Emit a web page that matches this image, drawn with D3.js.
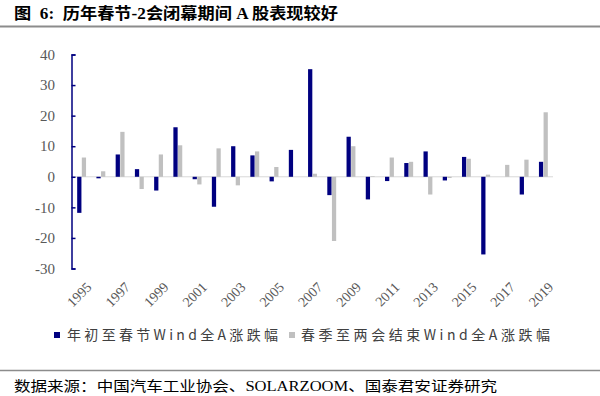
<!DOCTYPE html>
<html>
<head>
<meta charset="utf-8">
<script src="https://cdn.jsdelivr.net/npm/d3@7"></script>
<style>
  body { margin: 0; background: #fff; }
  svg { display: block; }
</style>
</head>
<body>
<div id="chart"></div>
<script>
// Data
const years = d3.range(1995, 2020).map(String);
const springFestival = [-11.8, -0.5, 7.3, 2.5, -4.5, 16.2, -0.8, -9.8, 10.0, 7.0, -1.5, 8.8, 35.2, -6.0, 13.1, -7.4, -1.4, 4.5, 8.3, -1.2, 6.5, -25.4, 0, -5.8, 4.9];
const twoSessions = [6.3, 1.8, 14.7, -4.0, 7.3, 10.3, -2.5, 9.3, -2.8, 8.3, 3.2, 0, 1.0, -21.0, 10.0, 0.2, 6.3, 4.9, -5.8, -0.4, 5.9, 0.7, 3.9, 5.6, 21.1];
const yTicks = [40, 30, 20, 10, 0, -10, -20, -30];
const seriesNames = ["年初至春节Wind全A涨跌幅", "春季至两会结束Wind全A涨跌幅"];
const seriesColors = ["#000080", "#c0c0c0"];

const width = 600, height = 396;
const serif = "'Liberation Serif', 'Noto Sans CJK SC', serif";

const svg = d3.select("#chart").append("svg")
    .attr("width", width)
    .attr("height", height);

// Title and rules
svg.append("text")
    .attr("x", 14).attr("y", 19)
    .attr("font-family", serif)
    .attr("font-size", 16)
    .attr("font-weight", "bold")
    .attr("textLength", 324)
    .attr("lengthAdjust", "spacingAndGlyphs")
    .attr("fill", "#000")
    .style("white-space", "pre")
    .text("图  6:  历年春节-2会闭幕期间 A 股表现较好");

svg.append("line")
    .attr("x1", 0).attr("x2", width)
    .attr("y1", 26.5).attr("y2", 26.5)
    .attr("stroke", "#8c8c8c").attr("stroke-width", 2);

svg.append("line")
    .attr("x1", 0).attr("x2", width)
    .attr("y1", 370.5).attr("y2", 370.5)
    .attr("stroke", "#8c8c8c").attr("stroke-width", 1.5);

svg.append("text")
    .attr("x", 14).attr("y", 391)
    .attr("font-family", serif)
    .attr("font-size", 14)
    .attr("textLength", 483)
    .attr("lengthAdjust", "spacingAndGlyphs")
    .attr("fill", "#000")
    .text("数据来源：中国汽车工业协会、SOLARZOOM、国泰君安证券研究");

// Scales
const left = 72, right = 553;
const y = d3.scaleLinear().domain([-30, 40]).range([268.5, 54.5]);
const x0 = d3.scaleBand().domain(years).range([left, right]).paddingInner(0.5).paddingOuter(0.25);
const x1 = d3.scaleBand().domain([0, 1]).range([0, x0.bandwidth()]).padding(0.08);

// Zero line
svg.append("line")
    .attr("x1", left).attr("x2", right)
    .attr("y1", y(0)).attr("y2", y(0))
    .attr("stroke", "#d9d9d9").attr("stroke-width", 1);

// Bars
const rows = years.map((yr, i) => ({ year: yr, values: [springFestival[i], twoSessions[i]] }));
const groups = svg.append("g").selectAll("g")
    .data(rows)
    .join("g")
    .attr("transform", d => `translate(${x0(d.year)},0)`);

groups.selectAll("rect")
    .data(d => d.values.map((v, k) => ({ k, v })))
    .join("rect")
    .attr("x", d => x1(d.k))
    .attr("width", x1.bandwidth())
    .attr("y", d => y(Math.max(0, d.v)))
    .attr("height", d => Math.abs(y(d.v) - y(0)))
    .attr("fill", d => seriesColors[d.k]);

// Y axis
const yAxis = d3.axisRight(y).tickValues(yTicks).tickSize(4).tickFormat("");
const yg = svg.append("g")
    .attr("transform", `translate(${left - 0.5},0)`)
    .call(yAxis);
yg.select(".domain").attr("stroke", "#000080").attr("stroke-width", 1.5);
yg.selectAll(".tick line").attr("stroke", "#000080").attr("stroke-width", 1.5);

svg.append("g").selectAll("text")
    .data(yTicks)
    .join("text")
    .attr("x", 55)
    .attr("y", d => y(d))
    .attr("dy", "0.35em")
    .attr("text-anchor", "end")
    .attr("font-family", serif)
    .attr("font-size", 15)
    .attr("fill", "#595959")
    .text(d => d);

// X labels every other year
const xLabels = years.filter((d, i) => i % 2 === 0);
svg.append("g").selectAll("text")
    .data(xLabels)
    .join("text")
    .attr("transform", d => `translate(${x0(d) + x0.bandwidth() / 2 + 4},${281}) rotate(-45)`)
    .attr("text-anchor", "end")
    .attr("dy", "0.7em")
    .attr("font-family", serif)
    .attr("font-size", 14)
    .attr("fill", "#595959")
    .text(d => d);

// Legend
const legendItems = [
    { name: seriesNames[0], color: seriesColors[0], sx: 54, tx: 67, len: 211 },
    { name: seriesNames[1], color: seriesColors[1], sx: 289, tx: 301, len: 249 }
];
const lg = svg.append("g");
lg.selectAll("rect")
    .data(legendItems)
    .join("rect")
    .attr("x", d => d.sx).attr("y", 332)
    .attr("width", 6).attr("height", 6)
    .attr("fill", d => d.color);
lg.selectAll("text")
    .data(legendItems)
    .join("text")
    .attr("x", d => d.tx).attr("y", 340)
    .attr("font-family", "'Noto Sans CJK SC', serif")
    .attr("font-size", 14)
    .attr("textLength", d => d.len)
    .attr("lengthAdjust", "spacing")
    .attr("fill", "#404040")
    .text(d => d.name);
</script>
</body>
</html>
